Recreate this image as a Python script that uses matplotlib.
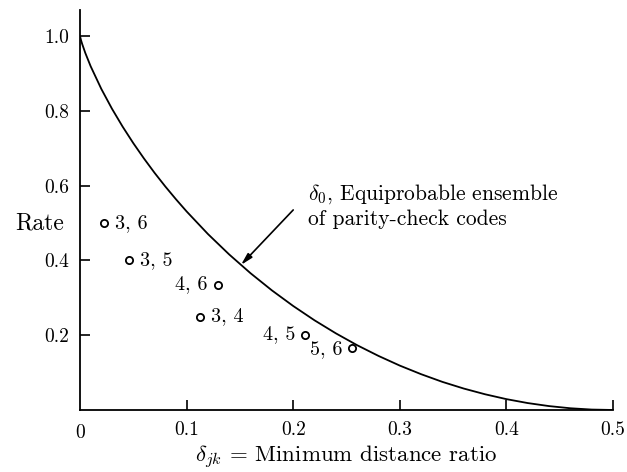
import matplotlib
matplotlib.use("Agg")
import matplotlib.pyplot as plt

# Curve: delta_0 for the equiprobable ensemble of parity-check codes
curve_delta = [0.0, 0.001, 0.002, 0.005, 0.01, 0.02, 0.03, 0.04, 0.05, 0.06, 0.07, 0.08, 0.09,
               0.10, 0.12, 0.14, 0.16, 0.18, 0.20, 0.22, 0.24, 0.26, 0.28, 0.30, 0.32,
               0.34, 0.36, 0.38, 0.40, 0.42, 0.44, 0.46, 0.48, 0.50]
curve_rate = [1.0, 0.9886, 0.9792, 0.9546, 0.9192, 0.8586, 0.8056, 0.7577, 0.7136, 0.6726,
              0.6340, 0.5978, 0.5636, 0.5310, 0.4706, 0.4158, 0.3657, 0.3199, 0.2781,
              0.2398, 0.2050, 0.1732, 0.1446, 0.1187, 0.0957, 0.0751, 0.0573, 0.0420,
              0.0290, 0.0185, 0.0104, 0.0046, 0.0011, 0.0]

# (j, k) codes
code_labels = ["3, 6", "3, 5", "4, 6", "3, 4", "4, 5", "5, 6"]
code_delta = [0.0225, 0.046, 0.129, 0.1125, 0.211, 0.255]
code_rate = [0.5, 0.4, 1/3, 0.25, 0.2, 1/6]
label_side = ["right", "right", "left", "right", "left", "left"]

x_ticks = [0.1, 0.2, 0.3, 0.4, 0.5]
x_ticklabels = ["0.1", "0.2", "0.3", "0.4", "0.5"]
y_ticks = [0.2, 0.4, 0.6, 0.8, 1.0]
y_ticklabels = ["0.2", "0.4", "0.6", "0.8", "1.0"]

plt.rcParams["font.family"] = "serif"
plt.rcParams["font.serif"] = ["cmr10", "DejaVu Serif"]
plt.rcParams["mathtext.fontset"] = "cm"
plt.rcParams["axes.unicode_minus"] = False

fig = plt.figure(figsize=(6.27, 4.72), dpi=100)
ax = fig.add_axes([0.1276, 0.1314, 0.9777 - 0.1276, 0.979 - 0.1314])

ax.plot(curve_delta, curve_rate, color="black", lw=1.3, solid_capstyle="butt")
ax.plot(code_delta, code_rate, linestyle="none", marker="o", markersize=5.2,
        markerfacecolor="white", markeredgecolor="black", markeredgewidth=1.3)

PT = 14.5
for lab, d, r, side in zip(code_labels, code_delta, code_rate, label_side):
    if lab == "5, 6":
        ax.annotate(lab, (d, r), xytext=(-7, -1), textcoords="offset points",
                    ha="right", va="center", fontsize=PT)
    elif side == "right":
        ax.annotate(lab, (d, r), xytext=(8, 0), textcoords="offset points",
                    ha="left", va="center", fontsize=PT)
    else:
        ax.annotate(lab, (d, r), xytext=(-7, 1), textcoords="offset points",
                    ha="right", va="center", fontsize=PT)

ax.annotate("", xy=(0.151, 0.388), xytext=(0.2, 0.535),
            arrowprops=dict(arrowstyle="-|>,head_length=0.7,head_width=0.18",
                            color="black", lw=1.2, shrinkA=0, shrinkB=0))
ax.text(0.214, 0.577, r"$\delta_0$, Equiprobable ensemble", fontsize=15.5, ha="left", va="center")
ax.text(0.214, 0.51, "of parity-check codes", fontsize=15.5, ha="left", va="center")

ax.set_xlim(0, 0.5)
ax.set_ylim(0, 1.07)
ax.set_xticks(x_ticks)
ax.set_xticklabels(x_ticklabels)
ax.set_yticks(y_ticks)
ax.set_yticklabels(y_ticklabels)
ax.text(0.0, -0.034, "0", transform=ax.get_xaxis_transform(), ha="center", va="top", fontsize=14)

for s in ["top", "right"]:
    ax.spines[s].set_visible(False)
for s in ["left", "bottom"]:
    ax.spines[s].set_linewidth(1.3)
ax.tick_params(direction="in", length=7.5, width=1.2, labelsize=14, pad=8)

ax.set_ylabel("Rate", rotation=0, fontsize=17, ha="right", va="center")
ax.yaxis.set_label_coords(-0.03, 0.5 / 1.07)
ax.set_xlabel(r"$\delta_{jk}$ = Minimum distance ratio", fontsize=16.5, labelpad=3.5)

fig.savefig("out.png", dpi=100)
